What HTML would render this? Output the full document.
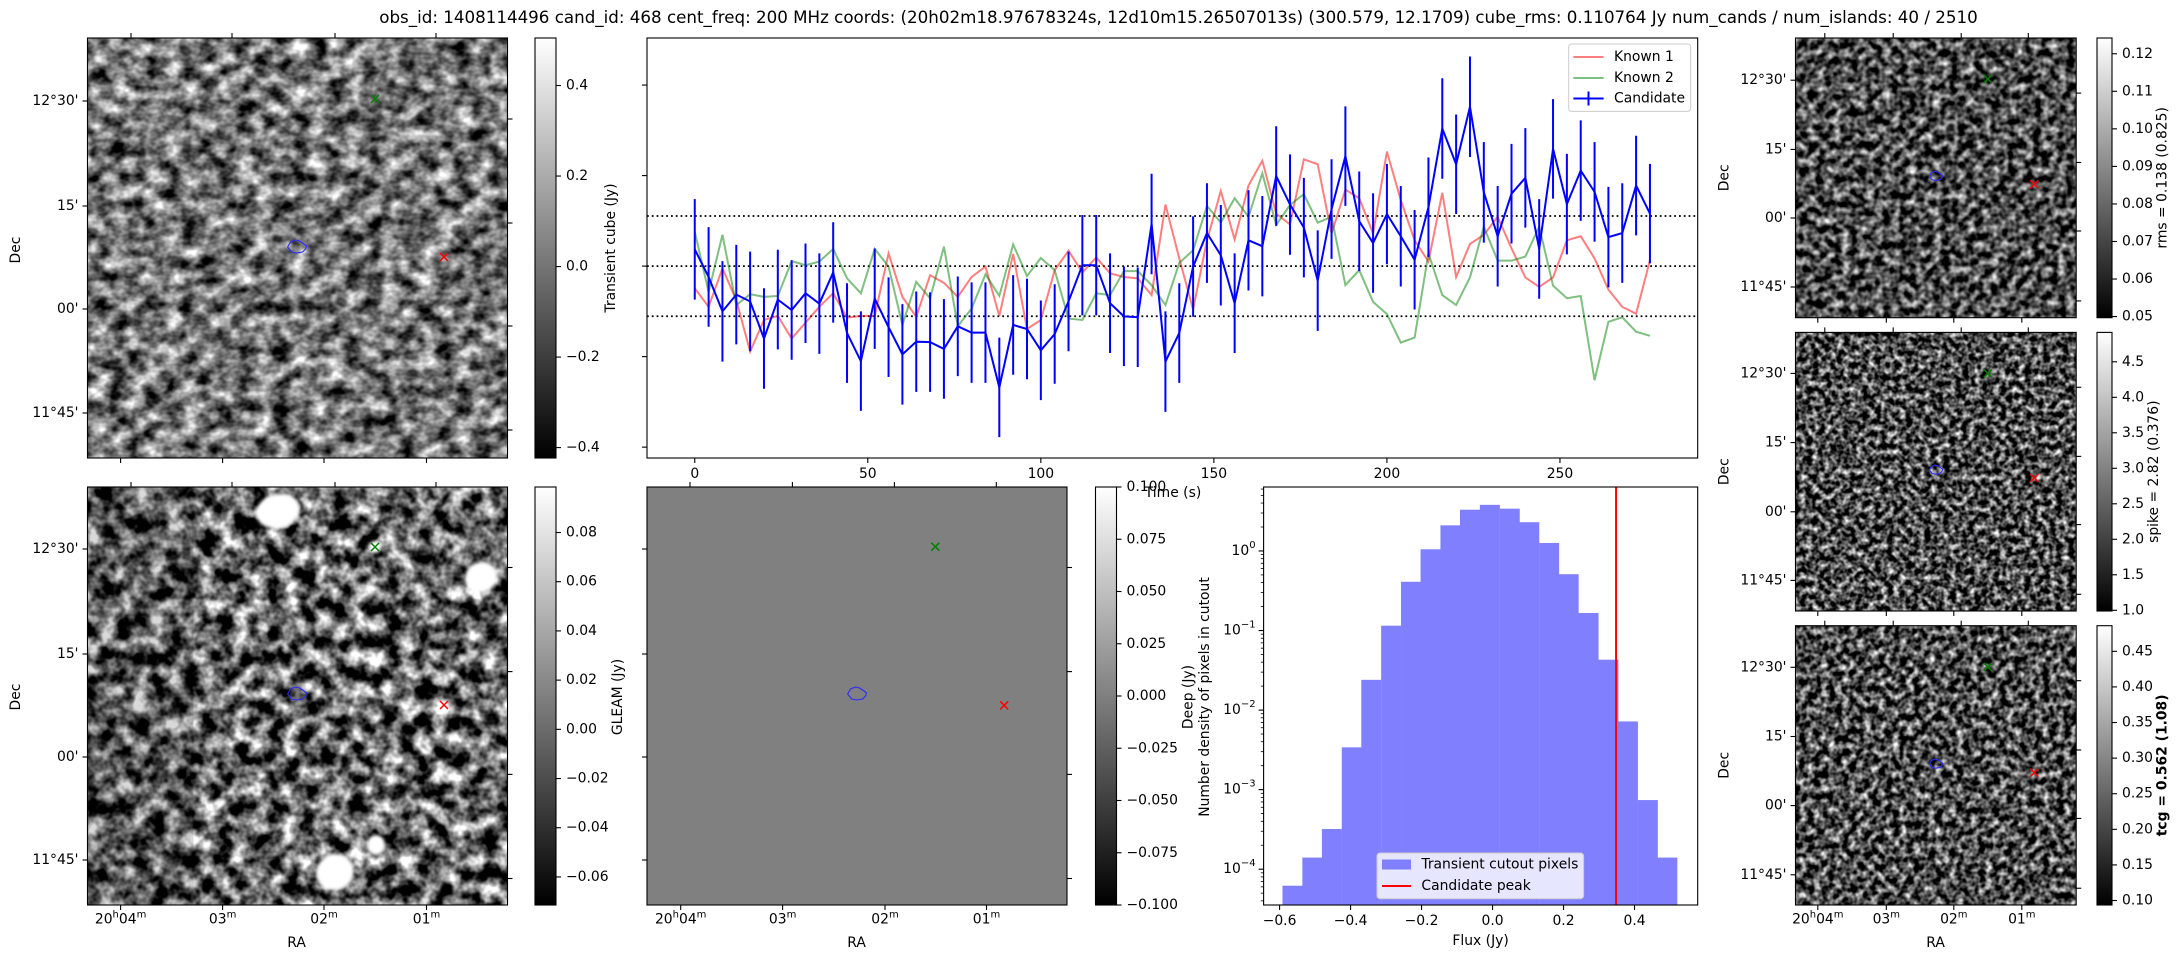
<!DOCTYPE html>
<html><head><meta charset="utf-8"><title>Transient candidate 468</title>
<style>
html,body{margin:0;padding:0;background:#fff;}
svg{display:block;font-family:"DejaVu Sans","Liberation Sans",sans-serif;}
.t{font-size:13.9px;fill:#000;}
</style></head>
<body>
<svg id="fig" xmlns="http://www.w3.org/2000/svg" width="2179" height="960" viewBox="0 0 2179 960">
<defs>
<linearGradient id="cbgrad" x1="0" y1="1" x2="0" y2="0"><stop offset="0" stop-color="#000"/><stop offset="1" stop-color="#fff"/></linearGradient>
<filter id="fTL" x="0" y="0" width="100%" height="100%" color-interpolation-filters="sRGB">
<feTurbulence type="fractalNoise" baseFrequency="0.055 0.07" numOctaves="3" seed="2"/>
<feColorMatrix type="matrix" values="1 0 0 0 0 1 0 0 0 0 1 0 0 0 0 0 0 0 0 1"/>
<feComponentTransfer><feFuncR type="linear" slope="1.7" intercept="-0.39"/><feFuncG type="linear" slope="1.7" intercept="-0.39"/><feFuncB type="linear" slope="1.7" intercept="-0.39"/></feComponentTransfer>
</filter>
<filter id="fBL" x="0" y="0" width="100%" height="100%" color-interpolation-filters="sRGB">
<feTurbulence type="fractalNoise" baseFrequency="0.06" numOctaves="3" seed="7"/>
<feColorMatrix type="matrix" values="1 0 0 0 0 1 0 0 0 0 1 0 0 0 0 0 0 0 0 1"/>
<feComponentTransfer><feFuncR type="linear" slope="2.3" intercept="-0.75"/><feFuncG type="linear" slope="2.3" intercept="-0.75"/><feFuncB type="linear" slope="2.3" intercept="-0.75"/></feComponentTransfer>
</filter>
<filter id="fR1" x="0" y="0" width="100%" height="100%" color-interpolation-filters="sRGB">
<feTurbulence type="fractalNoise" baseFrequency="0.12" numOctaves="2" seed="11"/>
<feColorMatrix type="matrix" values="1 0 0 0 0 1 0 0 0 0 1 0 0 0 0 0 0 0 0 1"/>
<feComponentTransfer><feFuncR type="linear" slope="1.8" intercept="-0.6"/><feFuncG type="linear" slope="1.8" intercept="-0.6"/><feFuncB type="linear" slope="1.8" intercept="-0.6"/></feComponentTransfer>
</filter>
<filter id="fR2" x="0" y="0" width="100%" height="100%" color-interpolation-filters="sRGB">
<feTurbulence type="fractalNoise" baseFrequency="0.16" numOctaves="2" seed="5"/>
<feColorMatrix type="matrix" values="1 0 0 0 0 1 0 0 0 0 1 0 0 0 0 0 0 0 0 1"/>
<feComponentTransfer><feFuncR type="linear" slope="2.0" intercept="-0.7"/><feFuncG type="linear" slope="2.0" intercept="-0.7"/><feFuncB type="linear" slope="2.0" intercept="-0.7"/></feComponentTransfer>
</filter>
<filter id="fR3" x="0" y="0" width="100%" height="100%" color-interpolation-filters="sRGB">
<feTurbulence type="fractalNoise" baseFrequency="0.14" numOctaves="2" seed="9"/>
<feColorMatrix type="matrix" values="1 0 0 0 0 1 0 0 0 0 1 0 0 0 0 0 0 0 0 1"/>
<feComponentTransfer><feFuncR type="linear" slope="2.0" intercept="-0.7"/><feFuncG type="linear" slope="2.0" intercept="-0.7"/><feFuncB type="linear" slope="2.0" intercept="-0.7"/></feComponentTransfer>
</filter>
</defs>
<rect x="0" y="0" width="2179" height="960" fill="#fff"/>
<text x="1178.5" y="23" text-anchor="middle" style="font-size:16.7px">obs_id: 1408114496 cand_id: 468 cent_freq: 200 MHz coords: (20h02m18.97678324s, 12d10m15.26507013s) (300.579, 12.1709) cube_rms: 0.110764 Jy num_cands / num_islands: 40 / 2510</text>
<g id="layer"></g>
</svg>
<script>
// ---------------- data ----------------
const lcTimes = [0,4,8,12,16,20,24,28,32,36,40,44,48,52,56,60,64,68,72,76,80,84,88,92,96,100,104,108,112,116,120,124,128,132,136,140,144,148,152,156,160,164,168,172,176,180,184,188,192,196,200,204,208,212,216,220,224,228,232,236,240,244,248,252,256,260,264,268,272,276];
const candidateFlux = [0.037,-0.024,-0.100,-0.063,-0.078,-0.160,-0.074,-0.097,-0.060,-0.083,-0.014,-0.148,-0.210,-0.072,-0.135,-0.195,-0.167,-0.168,-0.183,-0.133,-0.147,-0.147,-0.268,-0.130,-0.139,-0.186,-0.150,-0.078,0.002,0.002,-0.082,-0.111,-0.113,0.093,-0.211,-0.148,-0.001,0.073,0.024,-0.082,0.057,0.044,0.199,0.136,0.085,-0.032,0.126,0.243,0.099,0.051,0.115,0.066,0.014,0.130,0.304,0.225,0.352,0.163,0.066,0.160,0.195,0.038,0.259,0.137,0.211,0.164,0.064,0.073,0.178,0.116];
const candidateErr = [0.111,0.110,0.111,0.110,0.110,0.111,0.110,0.110,0.110,0.111,0.111,0.110,0.110,0.111,0.110,0.111,0.111,0.110,0.110,0.110,0.111,0.111,0.110,0.110,0.111,0.110,0.110,0.110,0.111,0.111,0.110,0.110,0.110,0.111,0.111,0.110,0.111,0.110,0.111,0.110,0.111,0.111,0.110,0.111,0.110,0.111,0.110,0.110,0.110,0.110,0.111,0.111,0.110,0.110,0.111,0.110,0.111,0.111,0.111,0.110,0.110,0.110,0.110,0.111,0.111,0.110,0.111,0.110,0.110,0.110];
const known1Flux = [-0.049,-0.090,-0.005,-0.075,-0.189,-0.119,-0.110,-0.160,-0.125,-0.090,-0.060,-0.114,-0.110,-0.110,0.028,-0.068,-0.112,-0.020,-0.037,-0.068,-0.024,-0.001,-0.110,0.027,-0.139,-0.119,-0.009,0.034,-0.014,0.019,-0.016,-0.024,-0.027,-0.064,0.136,0.017,-0.096,0.057,0.166,0.059,0.178,0.233,0.116,0.092,0.236,0.225,0.072,0.169,0.150,0.072,0.253,0.146,0.057,0.010,0.162,-0.024,0.049,0.069,0.109,0.039,-0.025,-0.046,-0.025,0.057,0.066,0.017,-0.052,-0.090,-0.105,0.013];
const known2Flux = [0.076,-0.057,0.069,-0.086,-0.062,-0.068,-0.066,0.011,0.002,0.010,0.038,-0.027,-0.060,0.038,-0.001,-0.130,-0.035,-0.071,0.043,-0.133,-0.094,-0.018,-0.066,0.048,-0.022,0.018,-0.009,-0.116,-0.119,-0.060,-0.064,-0.011,-0.011,-0.042,-0.086,0.007,0.035,0.133,0.096,0.150,0.109,0.205,0.091,0.135,0.159,0.096,0.109,-0.042,-0.009,-0.079,-0.106,-0.169,-0.158,0.028,-0.064,-0.086,-0.025,0.087,0.012,0.012,0.021,0.087,-0.043,-0.071,-0.066,-0.252,-0.123,-0.113,-0.145,-0.154];
const cubeRms = 0.110764;
const lcXTicks = [0,50,100,150,200,250];
const lcYTicks = [0.4,0.2,0.0,-0.2,-0.4];

const histBinCenters = [-0.564,-0.508,-0.453,-0.397,-0.342,-0.286,-0.230,-0.175,-0.119,-0.064,-0.008,0.048,0.103,0.159,0.214,0.270,0.326,0.381,0.437,0.492];
const histDensity = [6.2e-5,1.4e-4,3.2e-4,3.4e-3,0.024,0.115,0.41,1.05,2.1,3.3,3.8,3.4,2.3,1.26,0.51,0.166,0.043,0.0072,0.00074,0.00014];
const histBinWidth = 0.0556;
const candidatePeak = 0.348;
const histXTicks = [-0.6,-0.4,-0.2,0.0,0.2,0.4];
const histXTickLabels = ["\u22120.6","\u22120.4","\u22120.2","0.0","0.2","0.4"];
const histYExps = [0,-1,-2,-3,-4];

// ---------------- helpers ----------------
const NS = "http://www.w3.org/2000/svg";
const layer = document.getElementById('layer');
function mk(tag, attrs, parent){ const e=document.createElementNS(NS,tag); for(const k in attrs) e.setAttribute(k,attrs[k]); (parent||layer).appendChild(e); return e; }
function txt(x,y,s,anchor,size,parent){ const e=mk('text',{x:x,y:y,'text-anchor':anchor||'middle','dominant-baseline':'central',class:'t'},parent); if(size) e.style.fontSize=size+'px'; e.textContent=s; return e; }
function lin(d0,d1,r0,r1){ return v=> r0+(v-d0)*(r1-r0)/(d1-d0); }

// ---------------- image panels ----------------
function imagePanel(name, x0,y0,x1,y1, filter, fillBase){
  const g = mk('g',{});
  
  
  const bg = mk('rect',{x:x0,y:y0,width:x1-x0,height:y1-y0,fill:fillBase||'#777'},g);
  
  
  if(filter){
    const r = mk('rect',{x:x0,y:y0,width:x1-x0,height:y1-y0,filter:'url(#'+filter+')'},g);
    
    
  }
  return g;
}
function frame(g,x0,y0,x1,y1){
  const f = mk('rect',{x:x0,y:y0,width:x1-x0,height:y1-y0,fill:'none',stroke:'#000','stroke-width':1.1},g);
  
  
}
function tickLine(g,x1,y1,x2,y2){
  const l = mk('line',{x1:x1,y1:y1,x2:x2,y2:y2,stroke:'#000','stroke-width':1.1},g);
  
  
}
function cross(g,cx,cy,color,name){
  const p = mk('path',{d:`M${cx-4} ${cy-4}L${cx+4} ${cy+4}M${cx-4} ${cy+4}L${cx+4} ${cy-4}`,stroke:color,'stroke-width':1.5,fill:'none'},g);
  
  
}
function contour(g,cx,cy,scale){
  const s=scale||1;
  const pts=[[-9,0],[-6,-5],[-1,-7],[3,-6],[6,-4],[10,-1],[9,2],[6,5],[0,6],[-5,5]].map(p=>(cx+p[0]*s)+','+(cy+p[1]*s)).join(' ');
  const p = mk('polygon',{points:pts,fill:'none',stroke:'#2b2bff','stroke-width':1.1},g);
  
  
}
function blob(g,cx,cy,rx,ry,rot){
  const e = mk('ellipse',{cx:cx,cy:cy,rx:rx,ry:ry,fill:'#fff',transform:`rotate(${rot||0} ${cx} ${cy})`,style:'filter:blur(1.5px)'},g);
  
  
}
function wcsTicks(g,x0,y0,x1,y1,topX,botX,leftY,rightY){
  topX.forEach(x=>tickLine(g,x,y0,x,y0-5));
  botX.forEach(x=>tickLine(g,x,y1,x,y1+5));
  leftY.forEach(y=>tickLine(g,x0,y,x0-5,y));
  rightY.forEach(y=>tickLine(g,x1,y,x1+5,y));
}
const decLabels = ["12\u00b030'","15'","00'","11\u00b045'"];
function decAxis(g,x0,ys,labelY){
  ys.forEach((y,i)=>{ const t=txt(x0-9,y,decLabels[i],'end',null,g);
    
     });
}
function raAxis(g,xs,y){
  const labs=[['20','h','04','m'],['03','m'],['02','m'],['01','m']];
  xs.forEach((x,i)=>{
    const t=mk('text',{x:x,y:y,'text-anchor':'middle','dominant-baseline':'central',class:'t'},g);
    
    
    const L=labs[i];
    for(let j=0;j<L.length;j++){
      const ts=mk('tspan',{},t);
      ts.textContent=L[j];
      if(j%2===1){ ts.setAttribute('dy','-5'); ts.style.fontSize='10px'; }
      else if(j>0){ ts.setAttribute('dy','5'); }
    }
  });
}
function rotLabel(g,x,y,s,name,bold){
  const t=mk('text',{x:x,y:y,'text-anchor':'middle','dominant-baseline':'central',class:'t',transform:`rotate(-90 ${x} ${y})`},g);
  
  
  if(bold) t.style.fontWeight='bold';
  t.textContent=s;
}
function colorbar(name,x0,y0,x1,y1,vmin,vmax,ticks,labels){
  const g=mk('g',{});
  
  
  const r=mk('rect',{x:x0,y:y0,width:x1-x0,height:y1-y0,fill:'url(#cbgrad)',stroke:'#000','stroke-width':1.1},g);
  
  
  const ys=lin(vmin,vmax,y1,y0);
  ticks.forEach((v,i)=>{ const y=ys(v); tickLine(g,x1,y,x1+5,y);
    const t=txt(x1+10,y,labels[i],'start',null,g);
    
     });
  return g;
}

// top-left transient cube
{
  const g=imagePanel('transient-cube-image',87.5,38,507.5,458,'fTL','#777');
  frame(g,87.5,38,507.5,458);
  wcsTicks(g,87.5,38,507.5,458,[131,232,335,436],[120.6,222.6,324,426.5],[101,206,309,413],[119,223,326,430]);
  decAxis(g,87.5,[101,206,309,413]);
  rotLabel(g,16,250,'Dec','dec-axis-label');
  cross(g,375,99,'#008000','known-source-2-marker');
  cross(g,444,257,'#ff0000','known-source-1-marker');
  contour(g,296.6,247);
}
colorbar('transient-cube-colorbar',535,38,556,458,-0.423,0.505,[0.4,0.2,0,-0.2,-0.4],["0.4","0.2","0.0","\u22120.2","\u22120.4"]);
rotLabel(layer,611,248,'Transient cube (Jy)','transient-cube-colorbar-label');

// bottom-left GLEAM
{
  const g=imagePanel('gleam-image',87.5,487,507.5,905,'fBL','#666');
  const d=mk('rect',{x:87.5,y:487,width:106,height:418,fill:'#000',opacity:0.15},g);
  
  
  blob(g,278,511,22,17,-15); blob(g,481,577,16,15,-20); blob(g,335,872,19,18,-30); blob(g,376,845,9,10,0);
  blob(g,375,547,6,6,0); blob(g,444,705,5,5,0);
  frame(g,87.5,487,507.5,905);
  wcsTicks(g,87.5,487,507.5,905,[131,232,335,436],[120.6,222.6,324,426.5],[549,654,757,860],[567.5,671.6,774.4,878.5]);
  decAxis(g,87.5,[549,654,757,860]);
  rotLabel(g,16,697,'Dec','dec-axis-label');
  raAxis(g,[120.6,222.6,324,426.5],919.5);
  const ra=txt(296.6,943,'RA','middle',null,g);
  
  
  cross(g,375,547,'#008000','known-source-2-marker');
  cross(g,444,705,'#ff0000','known-source-1-marker');
  contour(g,296.6,694);
}
colorbar('gleam-colorbar',535,487,556,905,-0.0714,0.0985,[0.08,0.06,0.04,0.02,0,-0.02,-0.04,-0.06],["0.08","0.06","0.04","0.02","0.00","\u22120.02","\u22120.04","\u22120.06"]);
rotLabel(layer,618,697,'GLEAM (Jy)','gleam-colorbar-label');

// middle deep image (uniform)
{
  const g=imagePanel('deep-image',647,487,1067,905,null,'#808080');
  frame(g,647,487,1067,905);
  wcsTicks(g,647,487,1067,905,[690,792.4,894.4,996.3],[680.7,782.6,885,986.5],[549,654,757,860],[567.5,671.6,774.4,878.5]);
  raAxis(g,[680.7,782.6,885,986.5],919.5);
  const ra=txt(856.6,943,'RA','middle',null,g);
  
  
  cross(g,935.3,546.7,'#008000','known-source-2-marker');
  cross(g,1004.2,705.3,'#ff0000','known-source-1-marker');
  contour(g,856.6,694);
}
colorbar('deep-colorbar',1095.5,487,1116.5,905,-0.1,0.1,[0.1,0.075,0.05,0.025,0,-0.025,-0.05,-0.075,-0.1],["0.100","0.075","0.050","0.025","0.000","\u22120.025","\u22120.050","\u22120.075","\u22120.100"]);
rotLabel(layer,1188.6,697,'Deep (Jy)','deep-colorbar-label');

// right column panels
const rightPanels=[
  {name:'rms-image',f:'fR1',y0:38,y1:317.7,decY:[80.2,149.4,218,287],green:79,red:184.3,blue:176.3,
   cb:{vmin:0.0497,vmax:0.1242,ticks:[0.12,0.11,0.10,0.09,0.08,0.07,0.06,0.05],labels:["0.12","0.11","0.10","0.09","0.08","0.07","0.06","0.05"]},label:'rms = 0.138 (0.825)',lx:2162.4,bold:false},
  {name:'spike-image',f:'fR2',y0:332.4,y1:611,decY:[373.4,442.6,511.8,580.4],green:373.4,red:478,blue:470,
   cb:{vmin:0.99,vmax:4.914,ticks:[4.5,4.0,3.5,3.0,2.5,2.0,1.5,1.0],labels:["4.5","4.0","3.5","3.0","2.5","2.0","1.5","1.0"]},label:'spike = 2.82 (0.376)',lx:2154,bold:false},
  {name:'tcg-image',f:'fR3',y0:625.7,y1:905,decY:[667.3,736.5,805.6,874.8],green:667,red:772.6,blue:764,
   cb:{vmin:0.0937,vmax:0.486,ticks:[0.45,0.40,0.35,0.30,0.25,0.20,0.15,0.10],labels:["0.45","0.40","0.35","0.30","0.25","0.20","0.15","0.10"]},label:'tcg = 0.562 (1.08)',lx:2162.4,bold:true}
];
rightPanels.forEach((p,i)=>{
  const x0=1795.5,x1=2076.2;
  const g=imagePanel(p.name,x0,p.y0,x1,p.y1,p.f,'#444');
  frame(g,x0,p.y0,x1,p.y1);
  const h=p.y1-p.y0;
  wcsTicks(g,x0,p.y0,x1,p.y1,[1824.8,1893.2,1961.2,2028.3],[1817.8,1886.3,1953.8,2021.8],p.decY,[p.y0+0.197*h,p.y0+0.445*h,p.y0+0.69*h,p.y0+0.94*h]);
  decAxis(g,x0,p.decY);
  rotLabel(g,1724.7,(p.y0+p.y1)/2,'Dec','dec-axis-label');
  cross(g,1987.8,p.green,'#008000','known-source-2-marker');
  cross(g,2034.3,p.red,'#ff0000','known-source-1-marker');
  contour(g,1935.6,p.blue,0.7);
  colorbar(p.name.replace('-image','-colorbar'),2097,p.y0,2112,p.y1,p.cb.vmin,p.cb.vmax,p.cb.ticks,p.cb.labels);
  rotLabel(layer,p.lx,(p.y0+p.y1)/2,p.label,p.name.replace('-image','-colorbar-label'),p.bold);
  if(i===2){
    raAxis(g,[1817.8,1886.3,1953.8,2021.8],919.5);
    const ra=txt(1935.6,943,'RA','middle',null,g);
    
    
  }
});

// ---------------- light curve ----------------
{
  const L=647,R=1697.7,T=38,B=458;
  const xs=lin(-13.8,289.8,L,R), ys=lin(-0.424,0.504,B,T);
  const g=mk('g',{});
  
  
  const bg=mk('rect',{x:L,y:T,width:R-L,height:B-T,fill:'#fff'},g);
  
  
  [cubeRms,0,-cubeRms].forEach(v=>{
    const l=mk('line',{x1:L,x2:R,y1:ys(v),y2:ys(v),stroke:'#000','stroke-width':1.8,'stroke-dasharray':'1.8 3'},g);
    
    
  });
  function series(vals,color,width,name){
    const d=vals.map((v,i)=>(i?'L':'M')+xs(lcTimes[i]).toFixed(2)+' '+ys(v).toFixed(2)).join('');
    const p=mk('path',{d:d,fill:'none',stroke:color,'stroke-width':width,'stroke-linejoin':'miter'},g);
    
    
  }
  series(known1Flux,'rgba(255,0,0,0.5)',2,'known-1-line');
  series(known2Flux,'rgba(0,128,0,0.5)',2,'known-2-line');
  candidateFlux.forEach((v,i)=>{
    const x=xs(lcTimes[i]);
    const e=mk('line',{x1:x,x2:x,y1:ys(v-candidateErr[i]),y2:ys(v+candidateErr[i]),stroke:'#0000ff','stroke-width':2},g);
    
    
  });
  series(candidateFlux,'#0000ff',2,'candidate-line');
  frame(g,L,T,R,B);
  lcXTicks.forEach(t=>{ const x=xs(t); tickLine(g,x,B,x,B+5);
    const lab=txt(x,474,String(t),'middle',null,g);
    
     });
  lcYTicks.forEach(v=>{ tickLine(g,L,ys(v),L-5,ys(v)); });
  const xl=txt(1173,493,'Time (s)','middle',null,g);
  
  
  const lg=mk('g',{},g);
  
  
  const box=mk('rect',{x:1568.7,y:44,width:122,height:67.4,rx:3,fill:'rgba(255,255,255,0.8)',stroke:'#ccc','stroke-width':1},lg);
  
  
  const ents=[['Known 1','rgba(255,0,0,0.5)',57],['Known 2','rgba(0,128,0,0.5)',78],['Candidate','#0000ff',98.5]];
  ents.forEach((e,i)=>{
    const l=mk('line',{x1:1573.4,x2:1603.6,y1:e[2],y2:e[2],stroke:e[1],'stroke-width':2},lg);
    
    
    if(i===2){ const v=mk('line',{x1:1588.5,x2:1588.5,y1:e[2]-7,y2:e[2]+7,stroke:e[1],'stroke-width':2},lg);
      
       }
    const t=txt(1614,e[2],e[0],'start',null,lg);
    
    
  });
}

// ---------------- histogram ----------------
{
  const L=1263.6,R=1697.7,T=487,B=905;
  const xs=lin(-0.645,0.578,L,R);
  const ly=lin(-4.45,0.804,B,T);
  const ys=v=>ly(Math.log10(v));
  const g=mk('g',{});
  
  
  histBinCenters.forEach((c,i)=>{
    const x0=xs(c-histBinWidth/2), x1=xs(c+histBinWidth/2);
    const yt=ys(histDensity[i]);
    const r=mk('rect',{x:x0,y:yt,width:x1-x0+0.3,height:B-yt,fill:'#8080ff'},g);
    
    
  });
  const pk=mk('line',{x1:xs(candidatePeak),x2:xs(candidatePeak),y1:T,y2:B,stroke:'#ff0000','stroke-width':2},g);
  
  
  frame(g,L,T,R,B);
  histXTicks.forEach((v,i)=>{ const x=xs(v); tickLine(g,x,B,x,B+5);
    const t=txt(x,921,histXTickLabels[i],'middle',null,g);
    
     });
  for(let e=-5;e<=0;e++){ for(let m=2;m<=9;m++){ const v=Math.log10(m)+e; const y=ly(v); if(y>T&&y<B){
    const l=mk('line',{x1:L,x2:L-2.8,y1:y,y2:y,stroke:'#000','stroke-width':0.8},g);
    
     } } }
  histYExps.forEach(e=>{ const y=ly(e); tickLine(g,L,y,L-5,y);
    const t=mk('text',{x:L-8,y:y,'text-anchor':'end','dominant-baseline':'central',class:'t'},g);
    
    
    const a=mk('tspan',{},t); a.textContent='10';
    const b=mk('tspan',{dy:'-6'},t); b.style.fontSize='10px'; b.textContent=(e<0?'\u2212':'')+Math.abs(e); });
  const xl=txt(1480.6,941,'Flux (Jy)','middle',null,g);
  
  
  rotLabel(g,1204.9,697,'Number density of pixels in cutout','density-axis-label');
  const lg=mk('g',{},g);
  
  
  const box=mk('rect',{x:1377,y:853,width:206.6,height:45.7,rx:3,fill:'rgba(255,255,255,0.8)',stroke:'#ccc','stroke-width':1},lg);
  
  
  const sw=mk('rect',{x:1382,y:859.5,width:29,height:10,fill:'#8080ff'},lg);
  
  
  const t1=txt(1421.4,864.5,'Transient cutout pixels','start',null,lg);
  
  
  const sl=mk('line',{x1:1382,x2:1411,y1:886,y2:886,stroke:'#ff0000','stroke-width':2},lg);
  
  
  const t2=txt(1421.4,886,'Candidate peak','start',null,lg);
  
  
}
</script>
</body></html>
